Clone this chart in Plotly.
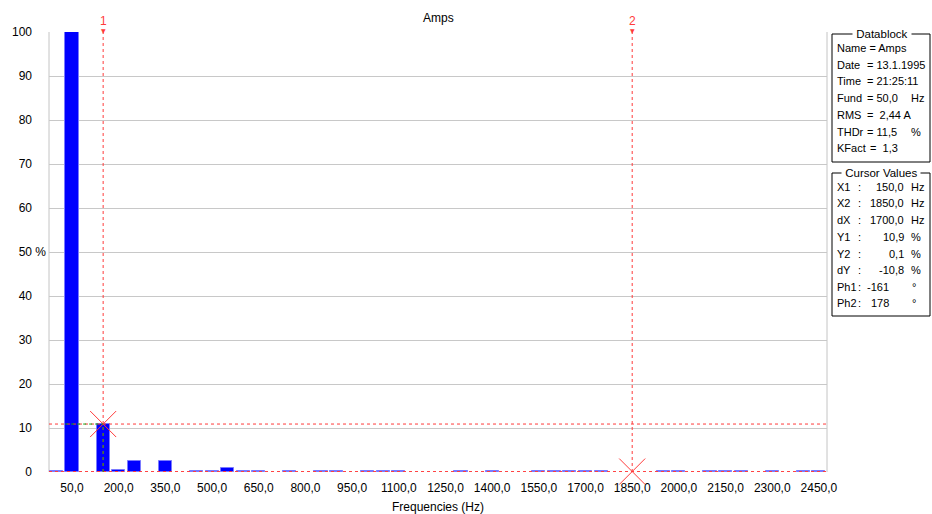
import plotly.graph_objects as go

# Harmonic spectrum of the current (percent of fundamental)
freqs_hz = [0, 50, 150, 200, 250, 350, 450, 500, 550, 600, 650, 750, 850, 900,
            1000, 1050, 1100, 1300, 1400, 1550, 1600, 1650, 1700, 1750, 1950,
            2000, 2100, 2150, 2200, 2300, 2400, 2450]
amps_pct = [0.3, 100, 10.9, 0.4, 2.5, 2.5, 0.3, 0.3, 0.9, 0.3, 0.3, 0.3, 0.3, 0.3,
            0.3, 0.3, 0.3, 0.3, 0.3, 0.3, 0.3, 0.3, 0.3, 0.3, 0.3,
            0.3, 0.3, 0.3, 0.3, 0.3, 0.3, 0.3]

x_tick_vals = list(range(50, 2451, 150))
x_tick_text = [f"{v},0" for v in x_tick_vals]
y_tick_vals = list(range(0, 101, 10))

# Cursor positions
cursor_names = ["1", "2"]
cursor_freq = [150, 1850]
cursor_pct = [10.9, 0.1]

datablock_labels = ["Name = Amps", "Date", "Time", "Fund", "RMS", "THDr", "KFact"]
datablock_values = ["", "= 13.1.1995", "= 21:25:11", "= 50,0", "=  2,44 A",
                    "= 11,5", "=  1,3"]
datablock_units = ["", "", "", "Hz", "", "%", ""]

cursor_labels = ["X1", "X2", "dX", "Y1", "Y2", "dY", "Ph1", "Ph2"]
cursor_values = ["150,0", "1850,0", "1700,0", "10,9", "0,1", "-10,8", "-161", "178"]
cursor_units = ["Hz", "Hz", "Hz", "%", "%", "%", "°", "°"]

W, H = 932, 514
L, R, T, B = 49, 827, 32, 472
FONT = "Liberation Sans, Arial, sans-serif"
RED = "#ff3b3b"
GREEN = "#10a010"
PANEL_SIZE = 11


def px(x):
    return (x - L) / (R - L)


def py(y):
    return (B - y) / (B - T)


fig = go.Figure()

fig.add_trace(go.Bar(
    x=freqs_hz, y=amps_pct, width=42,
    marker=dict(color="#0000ff", line=dict(color="#7a7aff", width=1)),
    showlegend=False, hoverinfo="x+y",
))

# cursor crosses
fig.add_trace(go.Scatter(
    x=cursor_freq, y=cursor_pct, mode="markers", cliponaxis=False,
    marker=dict(symbol="x-thin", size=26, line=dict(color=RED, width=1)),
    showlegend=False, hoverinfo="skip",
))

shapes = []
# frame lines
for xp in (0, 1):
    shapes.append(dict(type="line", xref="paper", yref="paper", x0=xp, x1=xp, y0=0, y1=1,
                       line=dict(color="#c4c4c4", width=1), layer="below"))

# cursor lines
for f in cursor_freq:
    shapes.append(dict(type="line", xref="x", yref="paper", x0=f, x1=f, y0=0, y1=1,
                       line=dict(color=RED, width=1, dash="3px,3px")))
for v in cursor_pct:
    shapes.append(dict(type="line", xref="paper", yref="y", x0=0, x1=1, y0=v, y1=v,
                       line=dict(color=RED, width=1, dash="3px,3px")))
# projection of cursor 1 onto the spectrum
shapes.append(dict(type="line", xref="x", yref="y", x0=28, x1=cursor_freq[0],
                   y0=cursor_pct[0], y1=cursor_pct[0],
                   line=dict(color=GREEN, width=1, dash="3px,3px")))
shapes.append(dict(type="line", xref="x", yref="y", x0=cursor_freq[0], x1=cursor_freq[0],
                   y0=0, y1=cursor_pct[0],
                   line=dict(color=GREEN, width=1, dash="3px,3px")))

# info boxes
for (y0, y1) in [(34, 162), (173, 316)]:
    shapes.append(dict(type="rect", xref="paper", yref="paper",
                       x0=px(832), x1=px(930), y0=py(y1), y1=py(y0),
                       line=dict(color="black", width=1), fillcolor="rgba(0,0,0,0)"))

annotations = []


def text(x, y, s, anchor="left", color="black", size=PANEL_SIZE, bg=None):
    a = dict(xref="paper", yref="paper", x=px(x), y=py(y), text=s, showarrow=False,
             xanchor=anchor, yanchor="middle", font=dict(family=FONT, size=size, color=color))
    if bg:
        a.update(bgcolor=bg, borderpad=0)
    annotations.append(a)


text(438, 18, "Amps", anchor="center", size=12)

for name, f in zip(cursor_names, cursor_freq):
    annotations.append(dict(xref="x", yref="paper", x=f, y=1, yshift=11, text=name,
                            showarrow=False, xanchor="center", yanchor="middle",
                            font=dict(family=FONT, size=12, color=RED)))
    annotations.append(dict(xref="x", yref="paper", x=f, y=1, yshift=2, text="▼",
                            showarrow=False, xanchor="center", yanchor="middle",
                            font=dict(family="DejaVu Sans", size=6, color=RED)))

text(882, 34, " Datablock ", anchor="center", bg="white", size=11.5)
db_rows = [48, 65, 81, 98, 115, 132, 148]
for yy, lab, val, unit in zip(db_rows, datablock_labels, datablock_values, datablock_units):
    text(835, yy, lab)
    if val:
        text(865 if lab != "KFact" else 868, yy, val)
    if unit:
        text(909, yy, unit)

text(881, 173, " Cursor Values ", anchor="center", bg="white", size=11.5)
cv_rows = [187, 203, 220, 237, 254, 270, 287, 303]
for yy, lab, val, unit in zip(cv_rows, cursor_labels, cursor_values, cursor_units):
    text(835, yy, lab)
    if unit == "°":
        text(856, yy, ":")
        text(891, yy, val, anchor="right")
        text(910, yy, unit)
    else:
        text(856, yy, ":")
        text(906, yy, val, anchor="right")
        text(909, yy, unit)

hidden = "<span style='color:rgba(0,0,0,0)'> %</span>"
y_tick_text = [f"{v} %" if v == 50 else f"{v}{hidden}" for v in y_tick_vals]

fig.update_layout(
    width=W, height=H,
    margin=dict(l=L, r=W - R, t=T, b=H - B, pad=0),
    paper_bgcolor="white", plot_bgcolor="white",
    font=dict(family=FONT, size=12, color="black"),
    bargap=0,
    shapes=shapes, annotations=annotations,
    xaxis=dict(range=[-24, 2476], tickvals=x_tick_vals, ticktext=x_tick_text,
               showgrid=False, zeroline=False, showline=False, ticks="",
               ticklabelstandoff=7, tickfont=dict(size=12), fixedrange=True,
               automargin=False,
               title=dict(text="Frequencies (Hz)", font=dict(size=12), standoff=8)),
    yaxis=dict(range=[0, 100], tickvals=y_tick_vals, ticktext=y_tick_text,
               showgrid=True, gridcolor="#c8c8c8", gridwidth=1, zeroline=False,
               showline=False, ticks="", ticklabelstandoff=2, tickfont=dict(size=12),
               fixedrange=True, automargin=False),
)

fig.write_html("out.html")
